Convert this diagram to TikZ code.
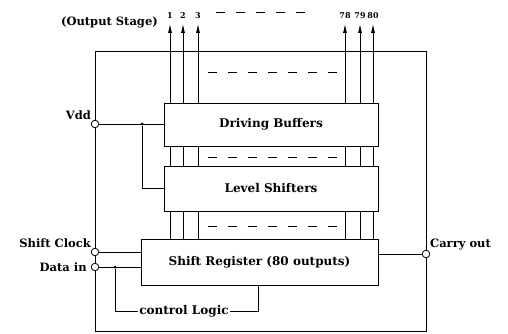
\documentclass[tikz,border=0pt]{standalone}
\usepackage{fontspec}
\setmainfont{DejaVu Serif}
\usetikzlibrary{arrows.meta,positioning}

\begin{document}
\begin{tikzpicture}[x=1pt, y=-1pt,
    block/.style={rectangle, draw, thick, inner sep=0pt, font=\bfseries\fontsize{12}{14}\selectfont},
    wire/.style={thick},
    outarrow/.style={thick, -{Latex[length=9pt,width=4pt]}},
    pin/.style={circle, draw, thick, fill=white, inner sep=0pt, minimum size=7.5pt},
    dot/.style={circle, fill, inner sep=0pt, minimum size=3pt},
    lbl/.style={font=\bfseries\fontsize{11.5}{13}\selectfont, inner sep=1pt},
    num/.style={font=\bfseries\fontsize{8}{10}\selectfont, inner sep=0pt},
    gap/.style={thick, dash pattern=on 9pt off 11pt}
]
  \useasboundingbox (0,0) rectangle (508,334);

  % Outer frame
  \node[draw, thick, minimum width=331pt, minimum height=280pt, inner sep=0pt] (frame) at (260.5,191) {};

  % Blocks
  \node[block, minimum width=214pt, minimum height=43pt] (buffers) at (271,124.5) {Driving Buffers};
  \node[block, minimum width=214pt, minimum height=45pt] (shifters) at (271,188.5) {Level Shifters};
  \node[block, minimum width=237pt, minimum height=46pt] (register) at (259.5,262) {Shift Register (80 outputs)};

  % Output columns
  \foreach \x/\n in {170/1, 183/2, 198/3, 345/78, 360/79, 373/80} {
    \coordinate (tip\n) at (\x,24);
    \draw[outarrow] (buffers.north -| tip\n) -- (tip\n);
    \draw[wire] (buffers.south -| tip\n) -- (shifters.north -| tip\n);
    \draw[wire] (shifters.south -| tip\n) -- (register.north -| tip\n);
    \node[num, above=5pt of tip\n] (out\n) {\n};
  }
  \node[lbl, anchor=east] (stage) at (159,22) {(Output Stage)};

  % Dashes between columns
  \draw[gap] (216,12) -- (316,12);
  \draw[gap] (208,72) -- (338,72);
  \draw[gap] (208,157) -- (338,157);
  \draw[gap] (208,226) -- (338,226);

  % Pins
  \node[pin] (vdd) at (95,124) {};
  \node[pin] (clk) at (95,252) {};
  \node[pin] (din) at (95,267) {};
  \node[pin] (carry) at (426,254) {};
  \node[dot] (jvdd) at (142,124) {};
  \node[dot] (jdin) at (115,267) {};

  \node[lbl, anchor=south east] at (vdd.north west) {Vdd};
  \node[lbl, anchor=south east] at (clk.north west) {Shift Clock};
  \node[lbl, left=3pt of din] {Data in};
  \node[lbl, anchor=south west] at (carry.north east) {Carry out};

  % Wiring
  \draw[wire] (vdd) -- (buffers.west |- vdd);
  \draw[wire] (jvdd) |- (shifters.west);
  \draw[wire] (clk) -- (register.west |- clk);
  \draw[wire] (din) -- (register.west |- din);
  \draw[wire] (register.east |- carry) -- (carry);

  % Control logic
  \node[lbl, font=\bfseries\fontsize{12}{14}\selectfont] (ctrl) at (184,311) {control Logic};
  \coordinate (ctrlup) at (258,285);
  \draw[wire] (jdin) |- (ctrl.west);
  \draw[wire] (ctrl.east) -| (ctrlup);
\end{tikzpicture}
\end{document}
